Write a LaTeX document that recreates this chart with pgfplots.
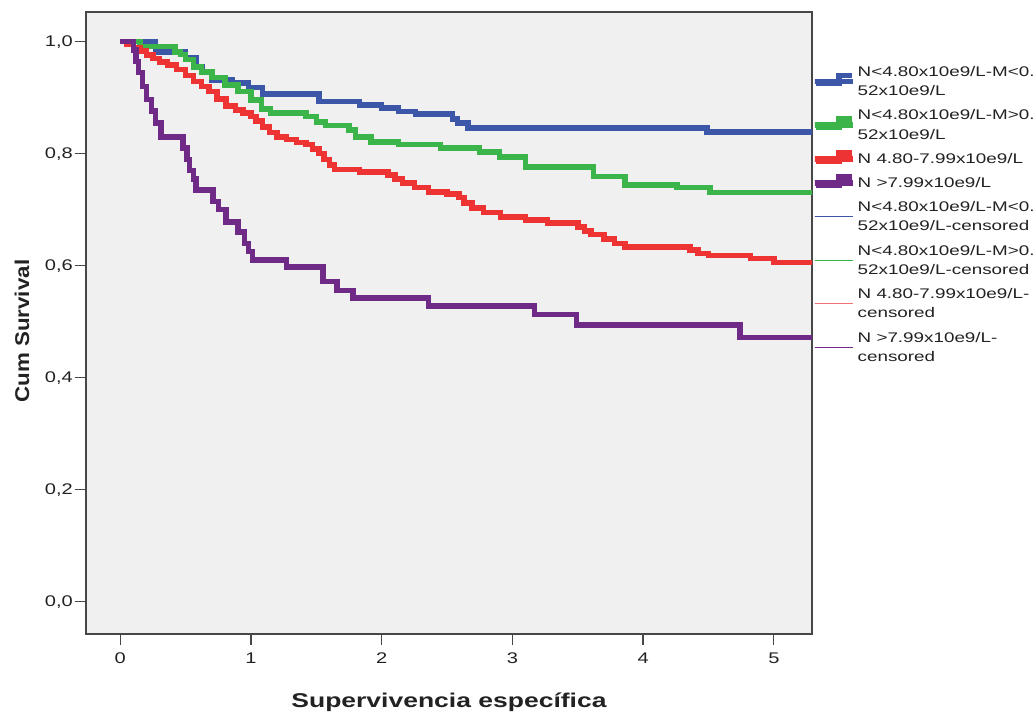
\documentclass[border=0pt]{standalone}
\usepackage{pgfplots}
\pgfplotsset{compat=1.18}
\usepackage{fontspec}
\setmainfont{Liberation Sans}
\newfontfamily\tickfont[FakeStretch=1.3]{Liberation Sans}
\newfontfamily\legfont[FakeStretch=1.35]{Liberation Sans}
\newfontfamily\labfont[FakeStretch=1.33]{Liberation Sans}
\newfontfamily\ylabfont[FakeStretch=1.12]{Liberation Sans}

\definecolor{bgcol}{HTML}{F0F0F0}
\definecolor{axcol}{HTML}{474747}
\definecolor{txtcol}{HTML}{222222}
\definecolor{kmblue}{HTML}{3D57A8}
\definecolor{kmgreen}{HTML}{3BB44A}
\definecolor{kmred}{HTML}{EE3333}
\definecolor{kmpurple}{HTML}{6E2A86}

\pgfplotsset{
  km/.style={const plot, line width=5.5bp, no marks, line join=miter,
    legend image code/.code={%
      \path (0bp,0bp) rectangle (38bp,0bp);
      \draw[##1,overlay] (1bp,-2bp) -- (24bp,-2bp) -- (24bp,6bp) -- (37bp,6bp);}},
  cens/.style={line width=1bp,
    legend image code/.code={%
      \path (0bp,0bp) rectangle (38bp,0bp);
      \draw[##1,overlay] (0bp,0bp) -- (38bp,0bp);}},
}

\begin{document}
\begin{tikzpicture}
\begin{axis}[
  at={(86bp,82bp)}, anchor=south west,
  scale only axis, width=726bp, height=622bp,
  xmin=-0.262, xmax=5.292, ymin=-0.0577, ymax=1.053,
  axis background/.style={fill=bgcol},
  axis line style={draw=axcol, line width=1.3bp},
  xtick={0,1,2,3,4,5}, ytick={0,0.2,0.4,0.6,0.8,1.0},
  tick align=outside, major tick length=11bp,
  every tick/.style={draw=axcol, line width=1.3bp},
  xtick pos=bottom, ytick pos=left,
  yticklabel style={/pgf/number format/fixed, /pgf/number format/fixed zerofill,
    /pgf/number format/precision=1, /pgf/number format/use comma, inner xsep=2bp},
  xticklabel style={yshift=-4bp},
  /pgf/number format/assume math mode=true,
  ticklabel style={font=\tickfont\fontsize{15.5}{18}\selectfont, text=txtcol},
  xlabel={Supervivencia específica}, ylabel={Cum Survival},
  xlabel style={font=\labfont\bfseries\fontsize{20}{24}\selectfont, text=txtcol,
    at={(axis description cs:0.5,-0.1174)}, anchor=base},
  ylabel style={font=\ylabfont\bfseries\fontsize{20}{24}\selectfont, text=txtcol,
    at={(axis description cs:-0.0882,0.487)}, anchor=center},
  legend style={at={(axis description cs:1,0.9164)}, anchor=north west,
    draw=none, fill=none, inner sep=0pt, row sep=8.5bp,
    font=\legfont\fontsize{14}{19.5}\selectfont, text=txtcol,
    cells={anchor=west, align=left, inner xsep=1bp, inner ysep=0bp}},
]
% N<4.80 / M<0.52
\addplot[km, color=kmblue] coordinates {
  (0,1.0) (0.27,0.982) (0.50,0.971) (0.58,0.955) (0.63,0.945) (0.70,0.932)
  (0.86,0.926) (0.98,0.918) (1.09,0.907) (1.52,0.893) (1.83,0.887) (2.0,0.882)
  (2.13,0.875) (2.26,0.871) (2.54,0.862) (2.58,0.855) (2.66,0.846) (4.49,0.839)
  (5.30,0.839)};
\addlegendentry{N<4.80x10e9/L-M<0.\\52x10e9/L}
% N<4.80 / M>0.52
\addplot[km, color=kmgreen] coordinates {
  (0,1.0) (0.15,0.991) (0.42,0.982) (0.46,0.977) (0.50,0.968) (0.56,0.955)
  (0.62,0.946) (0.70,0.936) (0.80,0.923) (0.90,0.911) (1.00,0.896) (1.08,0.880)
  (1.15,0.873) (1.42,0.866) (1.50,0.857) (1.57,0.850) (1.75,0.842) (1.80,0.830)
  (1.92,0.821) (2.13,0.816) (2.45,0.810) (2.75,0.803) (2.90,0.794) (3.10,0.776)
  (3.62,0.759) (3.86,0.744) (4.26,0.740) (4.51,0.731) (5.30,0.731)};
\addlegendentry{N<4.80x10e9/L-M>0.\\52x10e9/L}
% N 4.80-7.99
\addplot[km, color=kmred] coordinates {
  (0,1.0) (0.05,0.995) (0.10,0.990) (0.15,0.983) (0.20,0.976) (0.25,0.970)
  (0.30,0.964) (0.36,0.958) (0.43,0.950) (0.50,0.940) (0.56,0.929) (0.62,0.920)
  (0.68,0.911) (0.74,0.898) (0.81,0.885) (0.88,0.878) (0.94,0.873) (1.00,0.866)
  (1.04,0.858) (1.09,0.848) (1.14,0.838) (1.20,0.830) (1.27,0.825) (1.35,0.820)
  (1.42,0.816) (1.47,0.808) (1.52,0.800) (1.56,0.790) (1.60,0.780) (1.64,0.772)
  (1.83,0.767) (2.05,0.762) (2.10,0.755) (2.16,0.748) (2.25,0.740) (2.36,0.732)
  (2.50,0.728) (2.59,0.722) (2.63,0.712) (2.69,0.703) (2.78,0.695) (2.91,0.687)
  (3.10,0.682) (3.27,0.676) (3.50,0.669) (3.55,0.662) (3.60,0.656) (3.70,0.648)
  (3.78,0.640) (3.86,0.633) (4.36,0.628) (4.42,0.622) (4.50,0.618) (4.82,0.613)
  (5.00,0.606) (5.30,0.606)};
\addlegendentry{N 4.80-7.99x10e9/L}
% N >7.99
\addplot[km, color=kmpurple] coordinates {
  (0,1.0) (0.10,0.985) (0.12,0.965) (0.14,0.945) (0.17,0.920) (0.20,0.897)
  (0.24,0.876) (0.27,0.855) (0.31,0.830) (0.48,0.810) (0.51,0.790) (0.53,0.770)
  (0.56,0.755) (0.58,0.735) (0.71,0.715) (0.75,0.700) (0.81,0.678) (0.90,0.660)
  (0.95,0.640) (0.98,0.625) (1.01,0.610) (1.27,0.598) (1.55,0.572) (1.66,0.556)
  (1.78,0.542) (2.36,0.528) (3.17,0.513) (3.49,0.494) (4.74,0.472) (5.30,0.472)};
\addlegendentry{N >7.99x10e9/L}
\addlegendimage{cens, color=kmblue}
\addlegendentry{N<4.80x10e9/L-M<0.\\52x10e9/L-censored}
\addlegendimage{cens, color=kmgreen}
\addlegendentry{N<4.80x10e9/L-M>0.\\52x10e9/L-censored}
\addlegendimage{cens, color=kmred!70!white}
\addlegendentry{N 4.80-7.99x10e9/L-\\censored}
\addlegendimage{cens, color=kmpurple}
\addlegendentry{N >7.99x10e9/L-\\censored}
\end{axis}
\pgfresetboundingbox
\path[use as bounding box] (0bp,0bp) rectangle (1035bp,716bp);
\end{tikzpicture}
\end{document}
